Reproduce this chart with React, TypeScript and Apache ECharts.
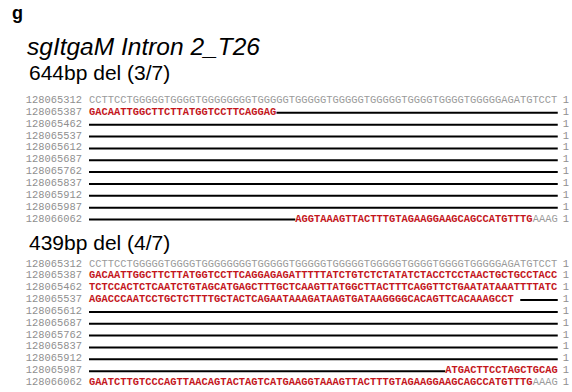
import React, { useEffect, useRef } from "react";
import * as echarts from "echarts";

// Genomic start coordinate of each 75-nt alignment row
const rowStarts = [
  "128065312", "128065387", "128065462", "128065537", "128065612", "128065687",
  "128065762", "128065837", "128065912", "128065987", "128066062",
];
const rowEnds = ["1", "1", "1", "1", "1", "1", "1", "1", "1", "1", "1"];

// Reference (wild-type) sequence of the first row
const refTop = "CCTTCCTGGGGGTGGGGTGGGGGGGGTGGGGGTGGGGGTGGGGGTGGGGGTGGGGTGGGGTGGGGGAGATGTCCT";

// Segments: [row, fromCol, toCol, kind, text]; kind: ref (grey), read (red), del (deleted span)
type Seg = [number, number, number, "ref" | "read" | "del", string];

const allele644: Seg[] = [
  [0, 0, 75, "ref", refTop],
  [1, 0, 30, "read", "GACAATTGGCTTCTTATGGTCCTTCAGGAG"],
  [1, 30, 75, "del", ""],
  [2, 0, 75, "del", ""],
  [3, 0, 75, "del", ""],
  [4, 0, 75, "del", ""],
  [5, 0, 75, "del", ""],
  [6, 0, 75, "del", ""],
  [7, 0, 75, "del", ""],
  [8, 0, 75, "del", ""],
  [9, 0, 75, "del", ""],
  [10, 0, 33, "del", ""],
  [10, 33, 71, "read", "AGGTAAAGTTACTTTGTAGAAGGAAGCAGCCATGTTTG"],
  [10, 71, 75, "ref", "AAAG"],
];

const allele439: Seg[] = [
  [0, 0, 75, "ref", refTop],
  [1, 0, 75, "read", "GACAATTGGCTTCTTATGGTCCTTCAGGAGAGATTTTTATCTGTCTCTATATCTACCTCCTAACTGCTGCCTACC"],
  [2, 0, 75, "read", "TCTCCACTCTCAATCTGTAGCATGAGCTTTGCTCAAGTTATGGCTTACTTTCAGGTTCTGAATATAAATTTTATC"],
  [3, 0, 68, "read", "AGACCCAATCCTGCTCTTTTGCTACTCAGAATAAAGATAAGTGATAAGGGGCACAGTTCACAAAGCCT"],
  [3, 69, 75, "del", ""],
  [4, 0, 75, "del", ""],
  [5, 0, 75, "del", ""],
  [6, 0, 75, "del", ""],
  [7, 0, 75, "del", ""],
  [8, 0, 75, "del", ""],
  [9, 0, 57, "del", ""],
  [9, 57, 75, "read", "ATGACTTCCTAGCTGCAG"],
  [10, 0, 71, "read", "GAATCTTGTCCCAGTTAACAGTACTAGTCATGAAGGTAAAGTTACTTTGTAGAAGGAAGCAGCCATGTTTG"],
  [10, 71, 75, "ref", "AAAG"],
];

const MONO = '"Liberation Mono", "Courier New", monospace';
const MONO_SIZE = 10.42;
const RED = "#c4161c";
const GREY = "#9a9a9a";

function makeRender(segs: Seg[]) {
  return (params: any, api: any) => {
    const [row, from, to, kind, text] = segs[params.dataIndex];
    const p0 = api.coord([from, row]);
    if (kind === "del") {
      const p1 = api.coord([to, row]);
      return {
        type: "line",
        shape: { x1: p0[0], y1: p0[1] + 1, x2: p1[0], y2: p1[1] + 1 },
        style: { stroke: "#000", lineWidth: 2 },
      };
    }
    return {
      type: "text",
      x: p0[0],
      y: p0[1],
      style: {
        text,
        fill: kind === "read" ? RED : GREY,
        fontFamily: MONO,
        fontSize: MONO_SIZE,
        fontWeight: kind === "read" ? "bold" : "normal",
        align: "left",
        verticalAlign: "middle",
      },
    };
  };
}

export default function App() {
  const ref = useRef<HTMLDivElement>(null);

  useEffect(() => {
    document.body.style.margin = "0";
    const chart = echarts.init(ref.current!, null, { renderer: "svg" });

    const rowH = 11.85;
    const gridH = rowH * rowStarts.length;
    const tops = [100 - rowH / 2, 263.5 - rowH / 2];

    const grids = tops.map((t) => ({ left: 89, right: 14, top: t, height: gridH }));
    const xAxes = tops.map((_, i) => ({
      type: "value" as const,
      gridIndex: i,
      min: 0,
      max: 75,
      show: false,
    }));
    const axisLabel = (margin: number) => ({
      color: "#8f8f8f",
      fontFamily: MONO,
      fontSize: MONO_SIZE,
      margin,
      interval: 0,
    });
    const yLeft = tops.map((_, i) => ({
      type: "category" as const,
      gridIndex: i,
      data: rowStarts,
      inverse: true,
      position: "left" as const,
      axisLine: { show: false },
      axisTick: { show: false },
      splitLine: { show: false },
      axisLabel: axisLabel(7),
    }));
    const yRight = tops.map((_, i) => ({
      type: "category" as const,
      gridIndex: i,
      data: rowEnds,
      inverse: true,
      position: "right" as const,
      axisLine: { show: false },
      axisTick: { show: false },
      splitLine: { show: false },
      axisLabel: axisLabel(5),
    }));

    const alleles = [allele644, allele439];
    const sans = '"Liberation Sans", Arial, sans-serif';

    chart.setOption({
      animation: false,
      grid: grids,
      xAxis: xAxes,
      yAxis: [...yLeft, ...yRight],
      series: alleles.map((segs, i) => ({
        type: "custom",
        xAxisIndex: i,
        yAxisIndex: i,
        renderItem: makeRender(segs),
        data: segs.map((s) => [s[1], s[0]]),
        encode: { x: 0, y: 1 },
        clip: false,
        silent: true,
      })),
      graphic: [
        {
          type: "text",
          left: 12,
          top: 4,
          style: { text: "g", fontFamily: sans, fontSize: 18, fontWeight: "bold", fill: "#000" },
        },
        {
          type: "text",
          left: 27,
          top: 34,
          style: { text: "sgItgaM Intron 2_T26", fontFamily: sans, fontSize: 24.5, fontStyle: "italic", fill: "#000" },
        },
        {
          type: "text",
          left: 29,
          top: 62,
          style: { text: "644bp del (3/7)", fontFamily: sans, fontSize: 21, fill: "#000" },
        },
        {
          type: "text",
          left: 29,
          top: 232,
          style: { text: "439bp del (4/7)", fontFamily: sans, fontSize: 21, fill: "#000" },
        },
      ],
    });

    return () => chart.dispose();
  }, []);

  return <div ref={ref} style={{ width: 572, height: 392 }} />;
}
